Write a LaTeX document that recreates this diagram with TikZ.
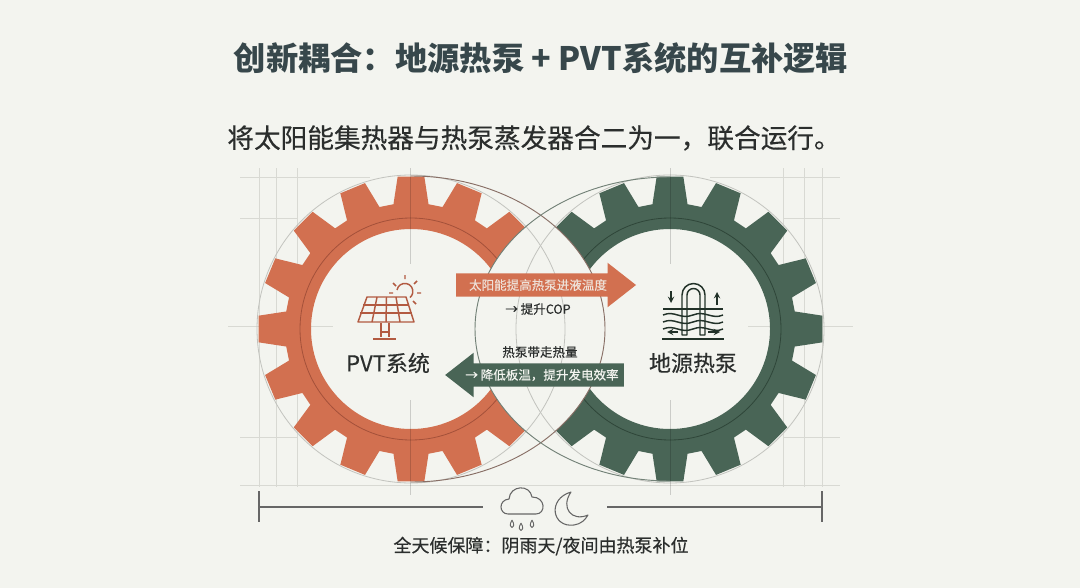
\documentclass[tikz,border=0pt]{standalone}
\usepackage{fontspec}
\setmainfont{Noto Sans CJK SC}
\newfontfamily\medfont[FakeBold=0.35]{Noto Sans CJK SC}
\usetikzlibrary{calc, positioning, shapes.arrows}
\definecolor{paper}{HTML}{F3F4EF}
\definecolor{rust}{HTML}{D27050}
\definecolor{rustdark}{HTML}{A4513A}
\definecolor{pine}{HTML}{496556}
\definecolor{pinedark}{HTML}{2F4639}
\definecolor{guide}{HTML}{D8D9D3}
\definecolor{ink}{HTML}{2B2E2D}
\definecolor{slate}{HTML}{37474B}
\newcommand{\gearpath}[2]{%
	($(#1,#2)+(-5:153)$)
	\foreach \a in {0,22.5,...,337.5} {
		-- ($(#1,#2)+(\a-5:153)$) -- ($(#1,#2)+(\a+5:153)$) -- ($(#1,#2)+(\a+8:126)$) -- ($(#1,#2)+(\a+14.5:126)$)
	} -- cycle (#1,#2) circle [radius=100]}

\begin{document}
\begin{tikzpicture}[
		x=0.75pt, y=-0.75pt, on grid, line join=round,
		guideline/.style={guide, line width=0.5pt},
		iconrust/.style={rustdark!70!rust, line width=1.1pt},
		iconpine/.style={pinedark!70!black, line width=1.1pt},
		lbl/.style={font=\fontsize{#1}{#1}\selectfont\medfont, text=ink, inner sep=0pt},
		blockarrow/.style={single arrow, minimum width=33pt, single arrow head extend=7.9pt,
			single arrow tip angle=76, single arrow head indent=0pt, inner sep=0pt, draw=none,
			text height=17.2pt, text depth=0pt}
		]
		\useasboundingbox (0,0) rectangle (1080,588);
		\fill[paper] (0,0) rectangle (1080,588);

		% construction lines
		\foreach \gx in {259,276,297,783,804,822}
			\draw[guideline] (\gx,168) -- (\gx,487);
		\draw[guideline] (240,177) -- (370,177);
		\draw[guideline] (710,177) -- (840,177);
		\draw[guideline] (240,218) -- (297,218);
		\draw[guideline] (783,218) -- (840,218);
		\draw[guideline] (240,437) -- (297,437);
		\draw[guideline] (783,437) -- (840,437);
		\draw[guideline] (240,485) -- (840,485);
		\draw[guideline] (228,326) -- (333,326);
		\draw[guideline] (748,326) -- (853,326);

		% gears
		\begin{scope}[even odd rule]
			\clip (0,0) rectangle (1080,588) (670,329) ellipse [x radius=195, y radius=152];
			\fill[rust] \gearpath{411}{329};
			\draw[rustdark, line width=0.6pt] (411,329) circle [radius=111];
		\end{scope}
		\begin{scope}[even odd rule]
			\clip (0,0) rectangle (1080,588) (411,329) ellipse [x radius=194, y radius=153];
			\fill[pine] \gearpath{670}{329};
			\draw[pinedark, line width=0.6pt] (670,329) circle [radius=111];
		\end{scope}

		% circles and lens
		\draw[guide!90!black, line width=0.6pt] (411,329) circle [radius=154];
		\draw[guide!90!black, line width=0.6pt] (670,329) circle [radius=154];
		\draw[rustdark!50!black!60!guide, line width=0.7pt] (411,176) arc [start angle=-90, end angle=90, x radius=194, y radius=153];
		\draw[pinedark!60!guide, line width=0.7pt] (670,177) arc [start angle=270, end angle=90, x radius=195, y radius=152];
		\foreach \cx in {410,670} {
			\draw[black, opacity=0.16, line width=0.5pt] (\cx,168) -- (\cx,264);
			\draw[black, opacity=0.16, line width=0.5pt] (\cx,400) -- (\cx,495);
		}

		% solar panel
		\draw[iconrust] (367,297) -- (406,297) -- (414,322) -- (358,322) -- cycle;
		\draw[iconrust] (363,305) -- (409,305) (360,313) -- (412,313);
		\draw[iconrust] (377,297) -- (372,322) (386.5,297) -- (386,322) (396,297) -- (400,322);
		\draw[iconrust] (381,323) -- (381,337) (389,323) -- (389,337) (381,332) -- (389,332);
		\draw[iconrust] (373,339) -- (396,339);
		\draw[iconrust] (397,290) arc [start angle=-170, end angle=50, radius=8];
		\draw[iconrust] (393,283) -- (396,286) (405,275) -- (405,279) (417,281) -- (414,284) (421,293) -- (417,293) (416,304) -- (413,301) (389,293) -- (393,293);

		% ground loop
		\draw[iconpine] (682,335) -- (682,295) arc [start angle=180, end angle=360, radius=11.5] -- (705,335) -- (700,335) -- (700,295) arc [start angle=360, end angle=180, radius=6.5] -- (687,335) -- cycle;
		\draw[iconpine] (663,309) -- (723,309);
		\foreach \wy in {315,322,329}
			\draw[iconpine] (663,\wy) .. controls (675,\wy-5) and (680,\wy+5) .. (693,\wy) .. controls (705,\wy-5) and (712,\wy+5) .. (723,\wy);
		\draw[iconpine, -stealth] (671,291) -- (671,303);
		\draw[iconpine, -stealth] (717,305) -- (717,292);
		\draw[iconpine, -stealth] (678,332) -- (667,332);
		\draw[iconpine, -stealth] (708,332) -- (720,332);
		\draw[iconpine] (662,339) -- (724,339);

		% arrows in the lens
		\node[blockarrow, fill=rust, minimum height=135pt] (warmarrow) at (538.5,285) {};
		\node[blockarrow, fill=pine, minimum height=134pt, shape border rotate=180] (coolarrow) at (542,375) {};
		\node[lbl=9.4, text=paper!85!rust] (warmtext) at (538,285) {太阳能提高热泵进液温度};
		\node[lbl=9.4] (coptext) at (538,309) {→ 提升COP};
		\node[lbl=9.4] (carrytext) at (540,352) {热泵带走热量};
		\node[lbl=9.4, text=paper] (cooltext) at (542,375) {→ 降低板温，提升发电效率};

		% labels
		\node[font=\fontsize{24.2}{24.2}\selectfont\bfseries, text=slate, inner sep=0pt] (title) at (541,58) {创新耦合：地源热泵 + PVT系统的互补逻辑};
		\node[lbl=20] (subtitle) at (534,138) {将太阳能集热器与热泵蒸发器合二为一，联合运行。};
		\node[lbl=16.5] (pvt) at (388,363) {PVT系统};
		\node[lbl=16.5] (ground) at (693,363) {地源热泵};
		\node[lbl=13.5] (allday) at (541,546) {全天候保障：阴雨天/夜间由热泵补位};

		% span bar
		\coordinate (spanL) at (259,507);
		\coordinate (spanLend) at (483,507);
		\coordinate (spanR) at (822,507);
		\coordinate (spanRend) at (607,507);
		\draw[black!60, line width=0.8pt] (spanL) -- (spanLend);
		\draw[black!60, line width=0.8pt] (spanRend) -- (spanR);
		\draw[black!60, line width=0.8pt] (259,491) -- (259,522);
		\draw[black!60, line width=0.8pt] (822,491) -- (822,522);

		% weather
		\draw[black!60, line width=0.8pt] (508,514) .. controls (499,514) and (498,500) .. (509,499) .. controls (510,485) and (530,484) .. (532,497) .. controls (546,497) and (546,514) .. (536,514) -- cycle;
		\foreach \dx/\dy in {512/524,521/527,532/524}
			\draw[black!60, line width=0.7pt] (\dx,\dy-4) .. controls (\dx+6,\dy+6) and (\dx-6,\dy+6) .. (\dx,\dy-4);
		\draw[black!60, line width=0.8pt] (571,492) .. controls (547,499) and (552,528) .. (574,525) .. controls (581,524) and (585,520) .. (588,515) .. controls (572,522) and (560,508) .. (571,492) -- cycle;
	\end{tikzpicture}
\end{document}
